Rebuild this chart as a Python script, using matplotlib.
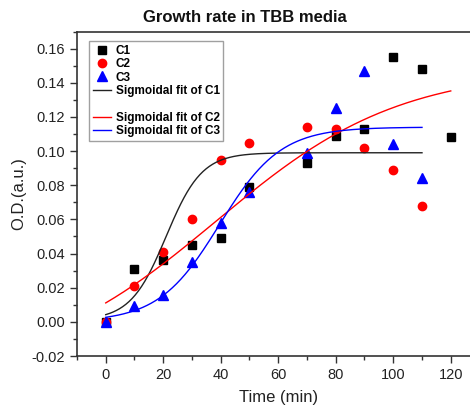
import numpy as np
import matplotlib
matplotlib.use('Agg')
from matplotlib import pyplot as plt
from matplotlib.lines import Line2D

plt.rcParams['font.family'] = ['Liberation Sans', 'DejaVu Sans']

# measured O.D. values
time = [0, 10, 20, 30, 40, 50, 70, 80, 90, 100, 110, 120]
c1 = [0.000, 0.031, 0.036, 0.045, 0.049, 0.079, 0.093, 0.109, 0.113, 0.155, 0.148, 0.108]
time23 = [0, 10, 20, 30, 40, 50, 70, 80, 90, 100, 110]
c2 = [0.000, 0.021, 0.041, 0.060, 0.095, 0.105, 0.114, 0.113, 0.102, 0.089, 0.068]
c3 = [0.000, 0.009, 0.016, 0.035, 0.058, 0.076, 0.099, 0.125, 0.147, 0.104, 0.084]

# Boltzmann fit parameters: A1, A2, x0, dx, t_end
fit_c1 = [0.001, 0.099, 21.0, 6.2, 110]
fit_c2 = [-0.03, 0.148, 38.4, 31.9, 120]
fit_c3 = [0.0, 0.114, 39.6, 10.6, 110]


def boltzmann(p):
    a1, a2, x0, dx, t_end = p
    t = np.linspace(0, t_end, 300)
    return t, a2 + (a1 - a2) / (1 + np.exp((t - x0) / dx))


fig = plt.figure(figsize=(4.7, 4.07), dpi=100)
ax = fig.add_axes([0.1638, 0.1253, 0.8564, 0.7973])

ax.plot(time, c1, 's', color='black', ms=5.5, ls='none', label='C1')
ax.plot(time23, c2, 'o', color='red', ms=6, ls='none', label='C2')
ax.plot(time23, c3, '^', color='blue', ms=6.5, ls='none', label='C3')

t, y = boltzmann(fit_c1)
ax.plot(t, y, color='#222222', lw=1.0, label='Sigmoidal fit of C1')
t, y = boltzmann(fit_c2)
ax.plot(t, y, color='red', lw=1.0, label='Sigmoidal fit of C2')
t, y = boltzmann(fit_c3)
ax.plot(t, y, color='blue', lw=1.0, label='Sigmoidal fit of C3')

ax.set_xlim(-10, 130)
ax.set_ylim(-0.02, 0.17)
ax.set_xticks(range(0, 121, 20))
ax.set_xticks(range(-10, 131, 10), minor=True)
ax.set_yticks(np.arange(-0.02, 0.161, 0.02))
ax.set_yticks(np.arange(-0.02, 0.171, 0.01), minor=True)
ax.set_yticklabels(['%.2f' % v for v in np.arange(-0.02, 0.161, 0.02)])

ax.tick_params(which='major', direction='out', length=5, width=1,
               labelsize=10.5, colors='#333333', labelcolor='#222222')
ax.tick_params(which='minor', direction='out', length=3, width=1, colors='#333333')
for s in ax.spines.values():
    s.set_linewidth(1.2)
    s.set_color('#333333')

ax.set_xlabel('Time (min)', fontsize=12, color='#222222', labelpad=6)
ax.set_ylabel('O.D.(a.u.)', fontsize=12, color='#222222', labelpad=4)
fig.text(0.522, 0.956, 'Growth rate in TBB media', ha='center', va='center',
         fontsize=12, fontweight='bold', color='#111111')

# legend with the blank row between the C1 and C2 fits
handles, labels = ax.get_legend_handles_labels()
blank = Line2D([], [], color='none')
handles = handles[:4] + [blank] + handles[4:]
labels = labels[:4] + [' '] + labels[4:]
leg = ax.legend(handles, labels, loc='upper left', bbox_to_anchor=(0.03, 0.97),
                prop={'size': 8.5, 'weight': 'bold'}, frameon=True,
                fancybox=False, edgecolor='#888888', borderaxespad=0,
                labelspacing=0.12, handlelength=1.6, handletextpad=0.35,
                borderpad=0.3, numpoints=1)
leg.get_frame().set_linewidth(1.0)

fig.savefig('out.png', dpi=100)
